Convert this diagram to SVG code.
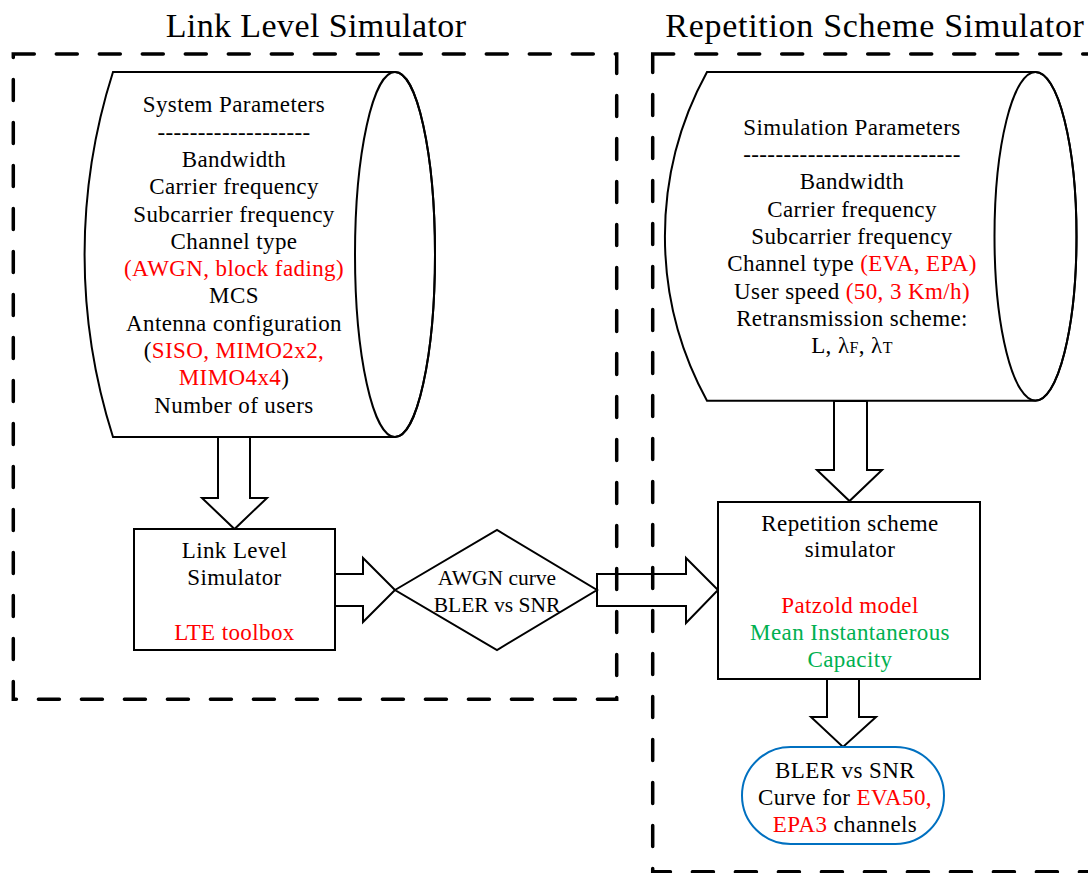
<svg xmlns="http://www.w3.org/2000/svg" width="1088" height="873" viewBox="0 0 1088 873">
<style>
text{font-family:"Liberation Serif","Times New Roman",serif;font-size:23px;fill:#000;text-anchor:middle;letter-spacing:0.4px}
.title{font-size:34px;letter-spacing:0.4px}
.title2{font-size:34px;letter-spacing:0.7px}
.dia{font-size:21.5px;letter-spacing:0}
.shape{fill:#fff;stroke:#000;stroke-width:2}
.line{fill:none;stroke:#000;stroke-width:2}
.arrow{fill:#fff;stroke:#000;stroke-width:2;stroke-linejoin:miter}
.box{fill:none;stroke:#000;stroke-width:3.5;stroke-dasharray:21 22;stroke-linecap:round}
.r{fill:#ff0000}
.g{fill:#00b050}
.sub{font-size:16px}
</style>
<g id="connectors">
<polygon class="arrow" points="218,437 250,437 250,498 267,498 234.5,529 202,498 218,498"/>
<polygon class="arrow" points="335,574 363,574 363,558 395,590 363,622 363,606 335,606"/>
<polygon class="arrow" points="597,574 686,574 686,558 718,590 686,623 686,606 597,606"/>
<polygon class="arrow" points="834,401 867,401 867,470 882,470 849.5,501 817,470 834,470"/>
<polygon class="arrow" points="827,679 859,679 859,717 876,717 843,747 811,717 827,717"/>
</g>
<g id="system-parameters">
<path class="shape" d="M113,72 L395,72 A40,182.5 0 0 1 395,437 L113,437 A600,600 0 0 1 113,72 Z"/>
<ellipse class="line" cx="395" cy="254.5" rx="40" ry="182.5"/>
<text x="234" y="112.3">System Parameters</text>
<text x="234" y="139.6">-------------------</text>
<text x="234" y="166.9">Bandwidth</text>
<text x="234" y="194.2">Carrier frequency</text>
<text x="234" y="221.5">Subcarrier frequency</text>
<text x="234" y="248.8">Channel type</text>
<text x="234" y="276.1" class="r">(AWGN, block fading)</text>
<text x="234" y="303.4">MCS</text>
<text x="234" y="330.7">Antenna configuration</text>
<text x="234" y="358">(<tspan class="r">SISO, MIMO2x2,</tspan></text>
<text x="234" y="385.3"><tspan class="r">MIMO4x4</tspan>)</text>
<text x="234" y="412.6">Number of users</text>
</g>
<g id="simulation-parameters">
<path class="shape" d="M707,72 L1035.5,72 A41,164.3 0 0 1 1035.5,400.7 L707,400.7 A342,342 0 0 1 707,72 Z"/>
<ellipse class="line" cx="1035.5" cy="236.3" rx="41" ry="164.3"/>
<text x="852" y="135">Simulation Parameters</text>
<text x="852" y="162.4">---------------------------</text>
<text x="852" y="189.3">Bandwidth</text>
<text x="852" y="216.7">Carrier frequency</text>
<text x="852" y="244">Subcarrier frequency</text>
<text x="852" y="271.3">Channel type <tspan class="r">(EVA, EPA)</tspan></text>
<text x="852" y="298.7">User speed <tspan class="r">(50, 3 Km/h)</tspan></text>
<text x="852" y="326">Retransmission scheme:</text>
<text x="852" y="353.3">L, λ<tspan class="sub">F</tspan>, λ<tspan class="sub">T</tspan></text>
</g>
<g id="link-level-simulator">
<rect class="shape" x="134" y="529" width="201" height="121"/>
<text x="234.5" y="558">Link Level</text>
<text x="234.5" y="585">Simulator</text>
<text x="234.5" y="640" class="r">LTE toolbox</text>
</g>
<g id="awgn-curve">
<polygon class="shape" points="395,590 497,530 597,590 497,650"/>
<text class="dia" x="497" y="585">AWGN curve</text>
<text class="dia" x="497" y="611.7">BLER vs SNR</text>
</g>
<g id="repetition-simulator">
<rect class="shape" x="718" y="502" width="262" height="177"/>
<text x="850" y="530.7">Repetition scheme</text>
<text x="850" y="557.3">simulator</text>
<text x="850" y="612.7" class="r">Patzold model</text>
<text x="850" y="640" class="g">Mean Instantanerous</text>
<text x="850" y="666.7" class="g">Capacity</text>
</g>
<g id="bler-output">
<rect x="742" y="747" width="202" height="97" rx="48.5" ry="48.5" fill="#fff" stroke="#0070c0" stroke-width="2"/>
<text x="845" y="777.7">BLER vs SNR</text>
<text x="845" y="805">Curve for <tspan class="r">EVA50,</tspan></text>
<text x="845" y="831.7"><tspan class="r">EPA3</tspan> channels</text>
</g>
<g id="link-level-container">
<rect class="box" x="13.3" y="54" width="603.4" height="645.3"/>
<text class="title" x="316" y="37">Link Level Simulator</text>
</g>
<g id="repetition-container">
<rect class="box" x="652.7" y="54" width="460" height="817.7"/>
<text class="title2" x="875" y="37">Repetition Scheme Simulator</text>
</g>
</svg>
